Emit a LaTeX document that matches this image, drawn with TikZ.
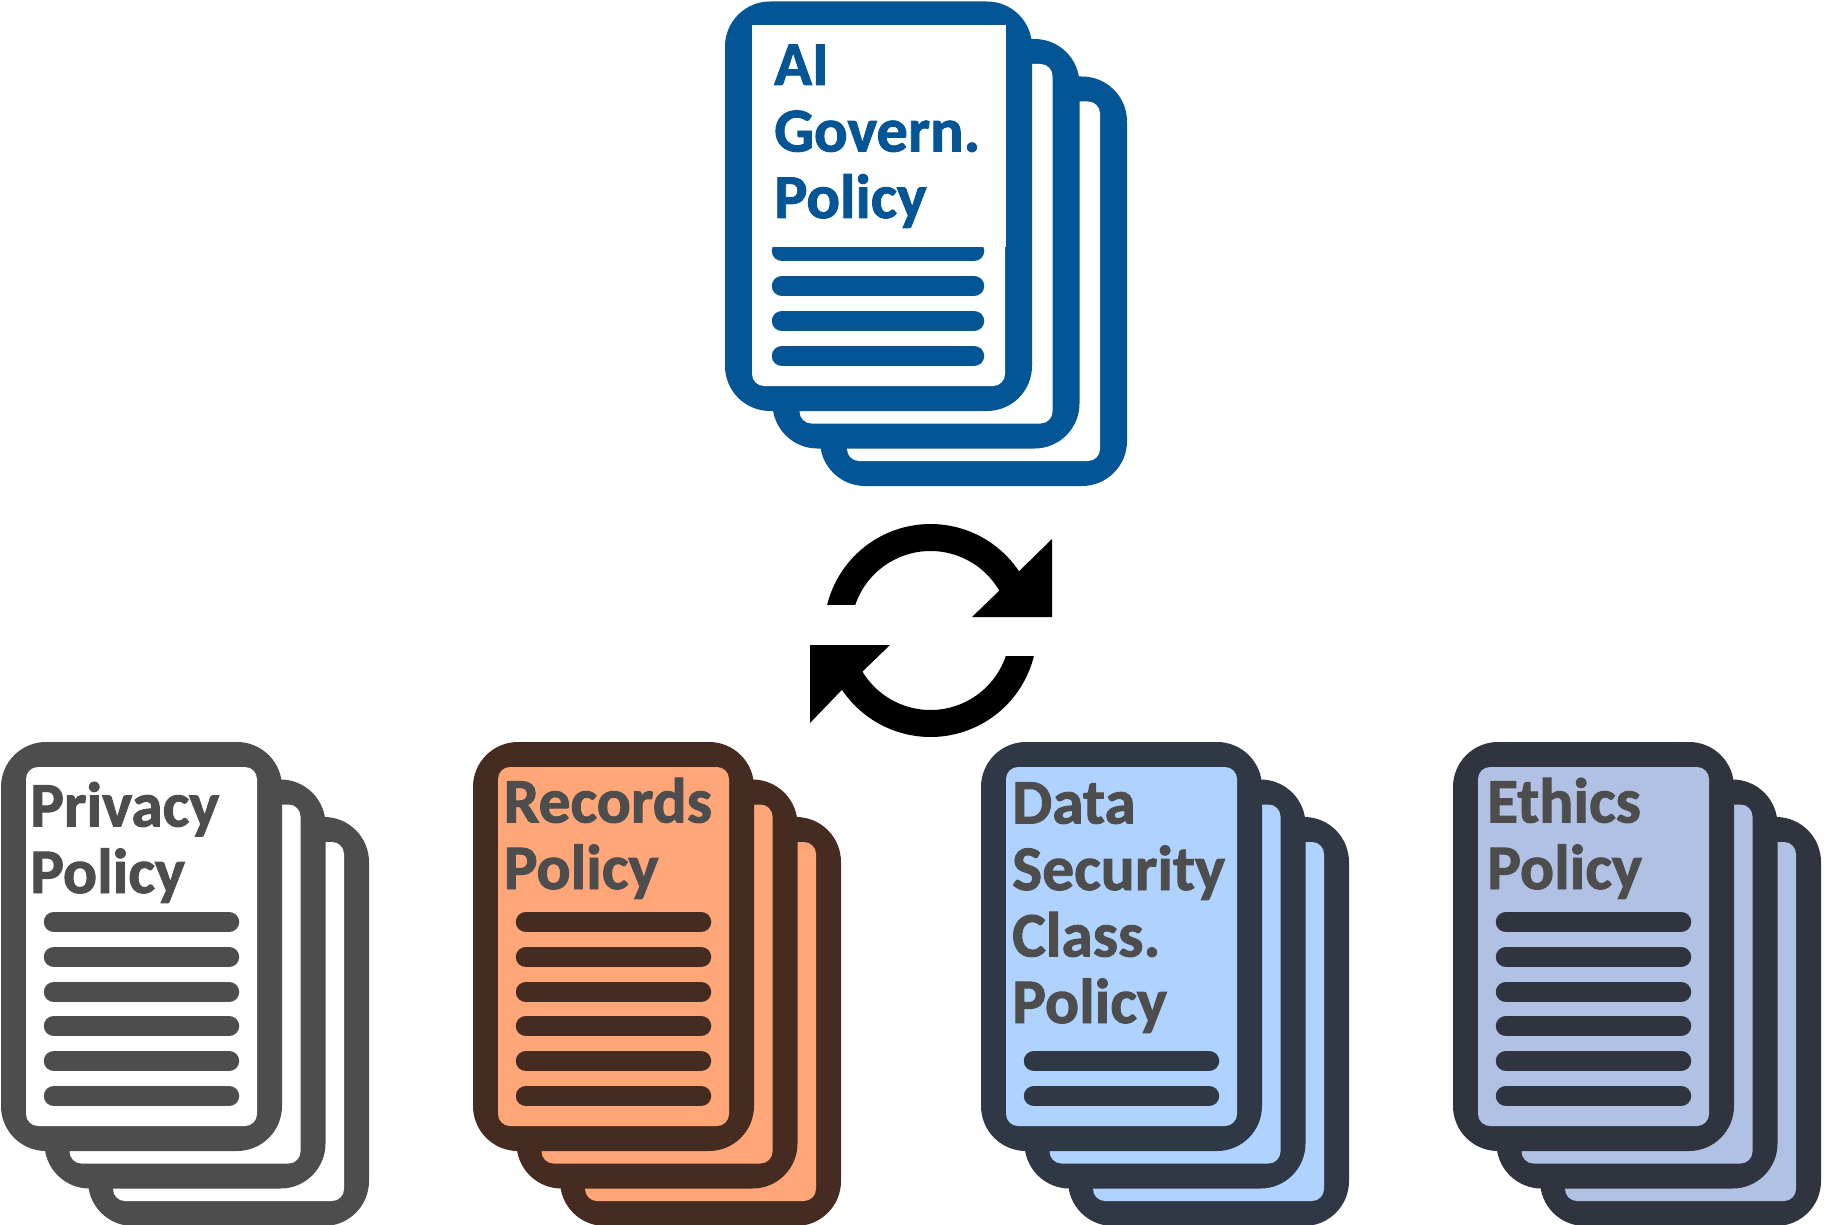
\documentclass[tikz,border=0pt]{standalone}
\usepackage{fontspec}
\setmainfont{Carlito}[BoldFeatures={FakeBold=1.5}]
\definecolor{aiblue}{HTML}{035596}
\definecolor{greyink}{HTML}{4D4D4D}
\definecolor{brownink}{HTML}{462B20}
\definecolor{orangefill}{HTML}{FFA679}
\definecolor{slateink}{HTML}{303846}
\definecolor{skyfill}{HTML}{B0D2FF}
\definecolor{darkslate}{HTML}{30343F}
\definecolor{periwinkle}{HTML}{B0C1E4}
\tikzset{
  sheetouter/.style={rounded corners=45pt},
  sheetinner/.style={rounded corners=12pt},
  bar/.style={line width=20.5pt, line cap=round},
  policytext/.style={font=\bfseries\fontsize{63.5}{66.5}\selectfont, anchor=base west, inner sep=0pt, align=left, text=greyink},
  cycle/.style={fill=black, draw=none}
}
% #1 left outer x, #2 top outer y, #3 outer width, #4 outer height, #5 dx, #6 dy, #7 ink, #8 paper, #9 inset
\newcommand{\policystack}[9]{%
  \foreach \k in {2,1,0}{%
    \pgfmathsetmacro{\sx}{#1+\k*#5}%
    \pgfmathsetmacro{\sy}{#2+\k*#6}%
    \pgfmathsetmacro{\ix}{\sx+#9}%
    \pgfmathsetmacro{\iy}{\sy+25}%
    \pgfmathsetmacro{\iw}{#3-2*#9}%
    \pgfmathsetmacro{\ih}{#4-50}%
    \fill[sheetouter, #7] (\sx,\sy) rectangle ++(#3,#4);
    \fill[sheetinner, #8] (\ix,\iy) rectangle ++(\iw,\ih);
  }%
}
% #1 left outer x, #2 ink, #3 list of bar centres
\newcommand{\policybars}[3]{%
  \foreach \b in {#3}{%
    \pgfmathsetmacro{\xa}{#1+53}%
    \pgfmathsetmacro{\xb}{#1+228}%
    \draw[bar, draw=#2] (\xa,\b) -- (\xb,\b);
  }%
}
\begin{document}
\begin{tikzpicture}[x=1pt,y=-1pt]
\useasboundingbox (0,0) rectangle (1824,1225);
\fill[white] (0,0) rectangle (1824,1225);

% AI governance stack
\policystack{725}{1.5}{307}{409.5}{47.5}{37.5}{aiblue}{white}{27}
\foreach \b in {251,286,321,356}{\draw[bar, draw=aiblue] (782,\b) -- (974,\b);}
\fill[white] (752,25) rectangle (1006,247);
\node[policytext, text=aiblue, font=\bfseries\fontsize{62.5}{66.5}\selectfont] (aitext) at (774,218) {AI\\Govern.\\Policy};

% Refresh symbol
\path[cycle] plot[domain=166.1:33.8, samples=70] ({930.5+106.5*cos(\x)},{630.5-106.5*sin(\x)})
  -- (1052,539) -- (1052,617) -- (972,617) -- (1000,590)
  -- plot[domain=30:161.2, samples=70] ({930.5+79.5*cos(\x)},{630.5-79.5*sin(\x)}) -- cycle;
\path[cycle] plot[domain=346.1:213.8, samples=70] ({930.5+106.5*cos(\x)},{630.5-106.5*sin(\x)})
  -- (810,723) -- (810,645) -- (890,645) -- (862,672)
  -- plot[domain=210:341.2, samples=70] ({930.5+79.5*cos(\x)},{630.5-79.5*sin(\x)}) -- cycle;

% Privacy
\policystack{1}{742}{281}{409}{43.5}{37.5}{greyink}{white}{25}
\policybars{1}{greyink}{922,957,992,1026,1061,1096}
\node[policytext] (privacytext) at (30,893) {Privacy\\Policy};

% Records
\policystack{473}{742}{281}{409}{43.5}{37.5}{brownink}{orangefill}{25}
\policybars{473}{brownink}{922,957,992,1026,1061,1096}
\node[policytext] (recordstext) at (503.5,889) {Records\\Policy};

% Data security classification
\policystack{981}{742}{281}{409}{43.5}{37.5}{slateink}{skyfill}{25}
\policybars{981}{slateink}{1061,1096}
\node[policytext] (datatext) at (1012,1023) {Data\\Security\\Class.\\Policy};

% Ethics
\policystack{1453}{742}{281}{409}{43.5}{37.5}{darkslate}{periwinkle}{25}
\policybars{1453}{darkslate}{922,957,992,1026,1061,1096}
\node[policytext] (ethicstext) at (1487,889) {Ethics\\Policy};
\end{tikzpicture}
\end{document}
